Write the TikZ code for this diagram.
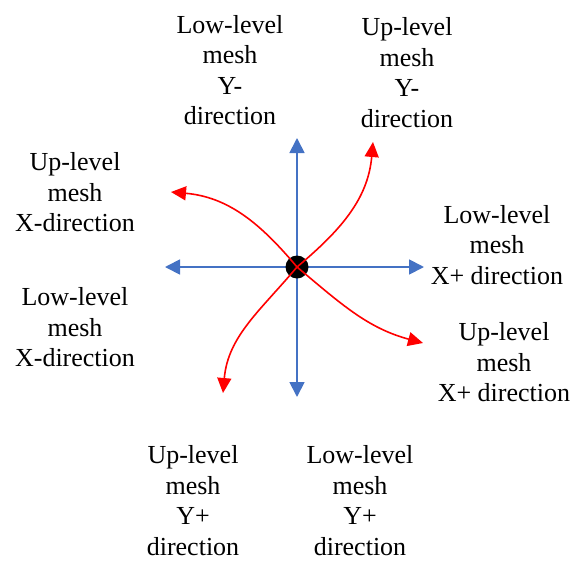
\documentclass[tikz,border=0pt]{standalone}
\usepackage{fontspec}
\setmainfont{Liberation Serif}
\usetikzlibrary{arrows.meta}
\definecolor{axisblue}{HTML}{4472C4}
\definecolor{curvered}{HTML}{FF0000}
\tikzset{
  lbl/.style={align=center, inner sep=0pt, anchor=base, font=\fontsize{26}{30.5}\selectfont},
  axis/.style={draw=axisblue, line width=1.8pt, -{Triangle[length=15pt,width=15pt]}},
  curve/.style={draw=curvered, line width=1.6pt, -{Triangle[length=15pt,width=14pt]}},
  hub/.style={circle, fill=black, minimum size=23pt, inner sep=0pt}
}
\begin{document}
\begin{tikzpicture}[x=1pt,y=-1pt]
\useasboundingbox (0,0) rectangle (580,562);
% labels (anchored at the baseline of their last line)
\node[lbl] (lowYm) at (230,124.5) {Low-level\\mesh\\Y-\\direction};
\node[lbl] (upYm) at (407,127) {Up-level\\mesh\\Y-\\direction};
\node[lbl] (upXm) at (75,231.7) {Up-level\\mesh\\X-direction};
\node[lbl] (lowXm) at (75,366.7) {Low-level\\mesh\\X-direction};
\node[lbl] (lowXp) at (497,284) {Low-level\\mesh\\X+ direction};
\node[lbl] (upXp) at (504,401.7) {Up-level\\mesh\\X+ direction};
\node[lbl] (upYp) at (193,555) {Up-level\\mesh\\Y+\\direction};
\node[lbl] (lowYp) at (360,555) {Low-level\\mesh\\Y+\\direction};
% axis end points
\coordinate (c) at (297,267);
\coordinate (tN) at (297,138);
\coordinate (tS) at (297,397);
\coordinate (tW) at (165,267);
\coordinate (tE) at (424,267);
\coordinate (rNE) at (373,142);
\coordinate (rNW) at (171,192);
\coordinate (rSE) at (423,343);
\coordinate (rSW) at (223,393);
\draw[axis] (c) -- (tN);
\draw[axis] (c) -- (tS);
\draw[axis] (c) -- (tW);
\draw[axis] (c) -- (tE);
\node[hub] (hub) at (c) {};
\draw[curve] (hub.center) to[out=40, in=-95] (rNE);
\draw[curve] (hub.center) to[out=130, in=-5] (rNW);
\draw[curve] (hub.center) to[out=-40, in=165] (rSE);
\draw[curve] (hub.center) to[out=-130, in=85] (rSW);
\end{tikzpicture}
\end{document}
